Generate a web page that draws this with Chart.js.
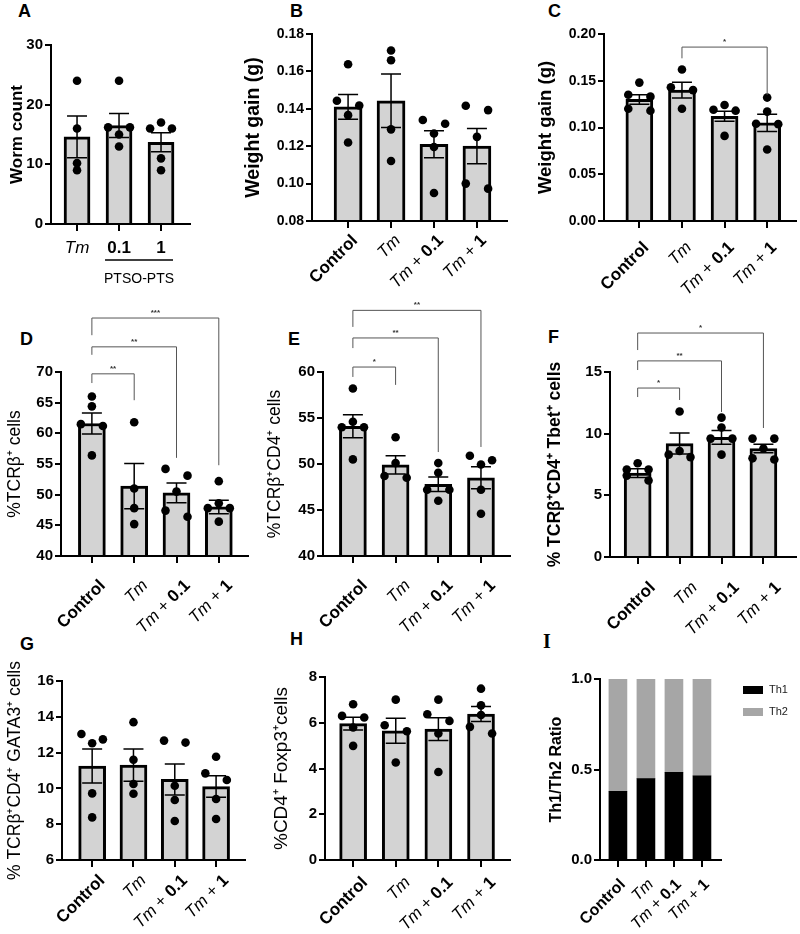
<!DOCTYPE html>
<html>
<head>
<meta charset="utf-8">
<script src="https://cdn.jsdelivr.net/npm/chart.js@4.4.0/dist/chart.umd.min.js"></script>
<style>
body { margin: 0; background: #fff; }
#fig { position: relative; width: 800px; height: 934px; overflow: hidden; font-family: 'Liberation Sans', Arial, sans-serif; }
#fig canvas { position: absolute; }
.letter { position: absolute; font-weight: bold; font-size: 18px; line-height: 18px; color: #000; }
</style>
</head>
<body>
<div id="fig">
  <div class="letter" style="left:18px;top:2px">A</div>
  <div class="letter" style="left:290px;top:2px">B</div>
  <div class="letter" style="left:548px;top:2px">C</div>
  <div class="letter" style="left:20px;top:330px">D</div>
  <div class="letter" style="left:288px;top:330px">E</div>
  <div class="letter" style="left:548px;top:328px">F</div>
  <div class="letter" style="left:20px;top:635px">G</div>
  <div class="letter" style="left:290px;top:630px">H</div>
  <div class="letter" style="left:543px;top:632px;font-family:'Liberation Serif',serif;font-size:20px">I</div>
</div>
<script>
const FONT = "'Liberation Sans', Arial, Helvetica, sans-serif";

const groups = ['Control', 'Tm', 'Tm + 0.1', 'Tm + 1'];
const groupsA = ['Tm', '0.1', '1'];

// A - worm count
const wormTicks = [0, 10, 20, 30];
const wormMean = [14.6, 16.5, 13.7];
const wormSem = [3.5, 2.0, 1.6];
const wormDots = [[24, 16, 10.2, 9], [24, 16.2, 16.2, 15, 13], [17, 16, 16, 11, 9]];

// B - weight gain
const weightTicksB = [0.08, 0.10, 0.12, 0.14, 0.16, 0.18];
const weightMeanB = [0.141, 0.1443, 0.121, 0.120];
const weightSemB = [0.0066, 0.0143, 0.0072, 0.0094];
const weightDotsB = [[0.1638, 0.1443, 0.1418, 0.1366, 0.122], [0.1712, 0.1660, 0.129, 0.1121], [0.134, 0.132, 0.1268, 0.1196, 0.095], [0.1416, 0.1393, 0.125, 0.100, 0.0973]];

// C - weight gain
const weightTicksC = [0, 0.05, 0.10, 0.15, 0.20];
const weightMeanC = [0.130, 0.140, 0.112, 0.105];
const weightSemC = [0.005, 0.0085, 0.0053, 0.0093];
const weightDotsC = [[0.148, 0.135, 0.133, 0.12, 0.118], [0.162, 0.143, 0.14, 0.12], [0.124, 0.119, 0.118, 0.091], [0.132, 0.117, 0.104, 0.1036, 0.0764]];
const sigC = [[1, 3, 0.186, 0.174, 0.135, '*']];

// D - TCRb+
const tcrTicks = [40, 45, 50, 55, 60, 65, 70];
const tcrMean = [61.6, 51.4, 50.3, 48.0];
const tcrSem = [1.7, 3.7, 1.6, 1.1];
const tcrDots = [[66, 64.4, 61.5, 61.2, 56.4], [61.8, 51, 47.8, 45.2], [54.2, 53.1, 50.5, 47.4, 46.4], [52.2, 48.6, 47.8, 47.8, 45.6]];
const sigD = [[0, 1, 69.7, 68.2, 65.4, '**'], [0, 2, 74.1, 72.8, 56.0, '**'], [0, 3, 78.8, 76.0, 54.8, '***']];

// E - TCRb+CD4+
const cd4Ticks = [40, 45, 50, 55, 60];
const cd4Mean = [54.1, 49.9, 47.8, 48.5];
const cd4Sem = [1.25, 1.0, 0.8, 1.2];
const cd4Dots = [[58.2, 54.6, 54.0, 54.0, 50.5], [52.9, 50.1, 48.7, 48.5], [50.1, 49.05, 47.2, 47.2, 46.0], [50.9, 50.4, 49.95, 47.2, 44.6]];
const sigE = [[0, 1, 60.54, 59.46, 58.6, '*'], [0, 2, 63.7, 62.6, 51.3, '**'], [0, 3, 66.7, 64.9, 51.85, '**']];

// F - Tbet+
const tbetTicks = [0, 5, 10, 15];
const tbetMean = [6.8, 9.2, 9.7, 8.8];
const tbetSem = [0.35, 0.85, 0.55, 0.35];
const tbetDots = [[7.6, 7.1, 7.1, 6.6, 6.2], [11.8, 8.6, 8.3, 8.1], [11.3, 10.5, 9.6, 9.6, 8.3], [9.6, 9.6, 8.8, 8.0, 7.9]];
const sigF = [[0, 1, 13.7, 12.97, 12.73, '*'], [0, 2, 15.9, 15.16, 11.76, '**'], [0, 3, 18.16, 16.78, 10.46, '*']];

// G - GATA3+
const gataTicks = [6, 8, 10, 12, 14, 16];
const gataMean = [11.25, 11.3, 10.5, 10.1];
const gataSem = [0.95, 0.9, 0.87, 0.6];
const gataDots = [[13.04, 12.74, 12.52, 9.72, 8.38], [13.7, 11.6, 10.25, 9.7], [12.67, 12.56, 10.15, 9.35, 8.18], [11.77, 10.84, 10.47, 9.41, 8.29]];

// H - Foxp3+
const foxTicks = [0, 2, 4, 6, 8];
const foxMean = [5.96, 5.65, 5.72, 6.38];
const foxSem = [0.28, 0.55, 0.5, 0.33];
const foxDots = [[6.81, 6.3, 6.23, 5.79, 4.99], [7.01, 5.89, 5.63, 4.26], [7.01, 6.37, 6.08, 5.53, 3.85], [7.49, 6.76, 6.34, 5.82, 5.53]];

// I - Th1/Th2
const ratioTicks = [0, 0.5, 1];
const th1 = [0.38, 0.45, 0.485, 0.465];
const th2 = [0.62, 0.55, 0.515, 0.535];

const panels = [
    { labels: groupsA, ticks: wormTicks, dec: 0, mean: wormMean, sem: wormSem, dots: wormDots,
      title: 'Worm count', titleFont: [17, 'bold'], titleX: 17, box: [0, 0, 205, 300], area: [51, 190, 45, 224],
      xr: [-0.62, 2.69], barW: 26, tickSize: 15, labSize: 17, flat: true, group: 'PTSO-PTS' },
    { labels: groups, ticks: weightTicksB, dec: 2, mean: weightMeanB, sem: weightSemB, dots: weightDotsB,
      title: 'Weight gain (g)', titleFont: [19.5, 'bold'], titleX: 254, box: [240, 0, 275, 300], area: [312, 507, 34, 221],
      xr: [-0.84, 3.70], barW: 28, tickSize: 14, labSize: 17, lab: [7, 17] },
    { labels: groups, ticks: weightTicksC, dec: 2, mean: weightMeanC, sem: weightSemC, dots: weightDotsC, sig: sigC,
      title: 'Weight gain (g)', titleFont: [18.5, 'bold'], titleX: 546, box: [530, 0, 270, 300], area: [604, 799, 34, 221],
      xr: [-0.83, 3.67], barW: 27, tickSize: 14, labSize: 17, lab: [7, 24] },
    { labels: groups, ticks: tcrTicks, dec: 0, mean: tcrMean, sem: tcrSem, dots: tcrDots, sig: sigD,
      title: '%TCRβ⁺ cells', titleFont: [17.5, 'normal'], titleX: 15, box: [0, 300, 258, 340], area: [61, 248, 372, 556],
      xr: [-0.73, 3.69], barW: 27, tickSize: 15, labSize: 17, lab: [11, 27] },
    { labels: groups, ticks: cd4Ticks, dec: 0, mean: cd4Mean, sem: cd4Sem, dots: cd4Dots, sig: sigE,
      title: '%TCRβ⁺CD4⁺ cells', titleFont: [17.5, 'normal'], titleX: 275, box: [258, 300, 262, 340], area: [323, 510, 372, 556],
      xr: [-0.70, 3.68], barW: 27, tickSize: 15, labSize: 17, lab: [12, 27] },
    { labels: groups, ticks: tbetTicks, dec: 0, mean: tbetMean, sem: tbetSem, dots: tbetDots, sig: sigF,
      title: '% TCRβ⁺CD4⁺ Tbet⁺ cells', titleFont: [17.5, 'bold'], titleX: 555, box: [530, 300, 270, 340], area: [610, 799, 372, 557],
      xr: [-0.66, 3.77], barW: 27, tickSize: 15, labSize: 17, lab: [15, 28] },
    { labels: groups, ticks: gataTicks, dec: 0, mean: gataMean, sem: gataSem, dots: gataDots,
      title: '% TCRβ⁺CD4⁺ GATA3⁺ cells', titleFont: [17.5, 'normal'], titleX: 15, box: [0, 620, 258, 314], area: [62, 245, 681, 860],
      xr: [-0.73, 3.70], barW: 27, tickSize: 15, labSize: 17, lab: [10, 18] },
    { labels: groups, ticks: foxTicks, dec: 0, mean: foxMean, sem: foxSem, dots: foxDots,
      title: '%CD4⁺ Foxp3⁺cells', titleFont: [19, 'normal'], titleX: 282, box: [258, 620, 262, 314], area: [325, 510, 677, 860],
      xr: [-0.66, 3.68], barW: 27, tickSize: 15, labSize: 17, lab: [12, 20] },
    { labels: groups, ticks: ratioTicks, dec: 1,
      stack: [{ label: 'Th1', values: th1, color: '#000000' }, { label: 'Th2', values: th2, color: '#a6a6a6' }],
      title: 'Th1/Th2 Ratio', titleFont: [16, 'bold'], titleX: 557, box: [530, 620, 270, 314], area: [600, 721, 679, 860],
      xr: [-0.64, 3.68], barW: 18, tickSize: 15, labSize: 16, lab: [5, 22] }
];

// Prism-like scatter: dots that would touch are put side by side
function spreadDots(dots, yMin, yMax) {
    const out = [];
    const rowGap = (yMax - yMin) * 0.038;
    const slotSets = [[0], [-1, 1], [0, -1, 1], [-1, 1, -2, 2], [0, -1, 1, -2, 2]];
    dots.forEach(function(vals, g) {
        const sorted = vals.slice().sort(function(a, b) { return b - a; });
        let row = [];
        function flush() {
            const slots = slotSets[row.length - 1];
            row.forEach(function(v, k) { out.push({ x: g + slots[k] * 0.26, y: v }); });
            row = [];
        }
        sorted.forEach(function(v) {
            if (row.length && row[0] - v >= rowGap) flush();
            row.push(v);
        });
        if (row.length) flush();
    });
    return out;
}

function labelParts(text) {
    if (text === 'Control') return [[text, 'bold']];
    const out = [];
    text.split(/(Tm| \+ )/).forEach(function(s) {
        if (!s) return;
        if (s === 'Tm') out.push([s, 'italic']);
        else if (s === ' + ') out.push([s, 'normal']);
        else out.push([s, 'bold']);
    });
    return out;
}

function buildPanel(p) {
    const c = document.createElement('canvas');
    const bl = p.box[0], bt = p.box[1], bw = p.box[2], bh = p.box[3];
    const x0 = p.area[0], x1 = p.area[1], y0 = p.area[2], y1 = p.area[3];
    c.width = bw; c.height = bh;
    c.style.left = bl + 'px'; c.style.top = bt + 'px';
    document.getElementById('fig').appendChild(c);

    const yw = x0 - bl, xh = bt + bh - y1;
    const yMin = p.ticks[0], yMax = p.ticks[p.ticks.length - 1];

    let datasets;
    if (p.stack) {
        datasets = p.stack.map(function(s) {
            return { type: 'bar', label: s.label, data: s.values.map(function(v, i) { return { x: i, y: v }; }),
                     backgroundColor: s.color, borderWidth: 0, barThickness: p.barW };
        });
    } else {
        datasets = [
            { type: 'bar', data: p.mean.map(function(v, i) { return { x: i, y: v }; }),
              backgroundColor: '#d3d3d3', borderColor: '#000', borderWidth: 3, borderSkipped: 'start',
              barThickness: p.barW, order: 2 },
            { type: 'scatter', data: spreadDots(p.dots, yMin, yMax), pointRadius: 4.3,
              pointBackgroundColor: '#000', pointBorderWidth: 0, order: 1 }
        ];
    }

    const extras = {
        id: 'extras',
        afterDatasetDraw: function(chart, args) {
            if (p.stack || args.index !== 0) return;
            const ctx = chart.ctx, ys = chart.scales.y;
            const meta = chart.getDatasetMeta(0);
            const cap = 10;
            ctx.save();
            ctx.strokeStyle = '#000';
            ctx.lineWidth = 1.5;
            meta.data.forEach(function(bar, i) {
                const yt = ys.getPixelForValue(p.mean[i] + p.sem[i]);
                const yb = ys.getPixelForValue(p.mean[i] - p.sem[i]);
                ctx.beginPath();
                ctx.moveTo(bar.x, yt); ctx.lineTo(bar.x, yb);
                ctx.moveTo(bar.x - cap, yt); ctx.lineTo(bar.x + cap, yt);
                ctx.moveTo(bar.x - cap, yb); ctx.lineTo(bar.x + cap, yb);
                ctx.stroke();
            });
            ctx.restore();
        },
        afterDraw: function(chart) {
            const ctx = chart.ctx, xs = chart.scales.x, ys = chart.scales.y;
            const base = chart.chartArea.bottom;
            ctx.save();
            ctx.fillStyle = '#000';
            // category labels with mixed styles
            p.labels.forEach(function(lbl, i) {
                const parts = labelParts(lbl);
                const px = xs.getPixelForValue(i);
                const fonts = parts.map(function(pt) {
                    return (pt[1] === 'normal' ? '' : pt[1] + ' ') + p.labSize + 'px ' + FONT;
                });
                let total = 0;
                const widths = parts.map(function(pt, k) { ctx.font = fonts[k]; const w = ctx.measureText(pt[0]).width; total += w; return w; });
                ctx.save();
                if (p.flat) {
                    ctx.translate(px, base + 29);
                    ctx.textBaseline = 'alphabetic';
                } else {
                    ctx.translate(px + p.lab[0], base + p.lab[1]);
                    ctx.rotate(-Math.PI / 4);
                    ctx.textBaseline = 'middle';
                }
                ctx.textAlign = 'left';
                let x = p.flat ? -total / 2 : -total;
                parts.forEach(function(pt, k) { ctx.font = fonts[k]; ctx.fillText(pt[0], x, 0); x += widths[k]; });
                ctx.restore();
            });
            // PTSO-PTS group line
            if (p.group) {
                const xa = xs.getPixelForValue(1) - 14, xb = xs.getPixelForValue(2) + 12;
                ctx.strokeStyle = '#000';
                ctx.lineWidth = 1.5;
                ctx.beginPath(); ctx.moveTo(xa, base + 36); ctx.lineTo(xb, base + 36); ctx.stroke();
                ctx.font = '14px ' + FONT;
                ctx.textAlign = 'center';
                ctx.textBaseline = 'alphabetic';
                ctx.fillText(p.group, (xa + xb) / 2, base + 59);
            }
            // significance brackets
            (p.sig || []).forEach(function(s) {
                const xa = xs.getPixelForValue(s[0]), xb = xs.getPixelForValue(s[1]);
                const yt = ys.getPixelForValue(s[2]);
                ctx.strokeStyle = '#555';
                ctx.lineWidth = 1;
                ctx.beginPath();
                ctx.moveTo(xa, ys.getPixelForValue(s[3]));
                ctx.lineTo(xa, yt); ctx.lineTo(xb, yt);
                ctx.lineTo(xb, ys.getPixelForValue(s[4]));
                ctx.stroke();
                ctx.fillStyle = '#333';
                ctx.font = 'bold 8px ' + FONT;
                ctx.textAlign = 'center';
                ctx.textBaseline = 'alphabetic';
                ctx.fillText(s[5], (xa + xb) / 2, yt - 3);
            });
            // legend for the stacked panel
            if (p.stack) {
                chart.data.datasets.forEach(function(ds, k) {
                    const yy = chart.chartArea.top + 11 + k * 22;
                    const lx = chart.chartArea.right + 22;
                    ctx.fillStyle = ds.backgroundColor;
                    ctx.fillRect(lx, yy - 4, 20, 8);
                    ctx.fillStyle = '#222';
                    ctx.font = '11px ' + FONT;
                    ctx.textAlign = 'left';
                    ctx.textBaseline = 'middle';
                    ctx.fillText(ds.label, lx + 26, yy);
                });
            }
            ctx.restore();
        }
    };

    new Chart(c, {
        type: 'bar',
        data: { datasets: datasets },
        options: {
            responsive: false,
            animation: false,
            events: [],
            layout: { padding: { top: y0 - bt, right: bl + bw - x1, left: 0, bottom: 0 } },
            plugins: { legend: { display: false }, tooltip: { enabled: false } },
            scales: {
                x: {
                    type: 'linear', min: p.xr[0], max: p.xr[1], offset: false, stacked: !!p.stack,
                    afterBuildTicks: function(s) { s.ticks = p.labels.map(function(_, i) { return { value: i }; }); },
                    afterFit: function(s) { s.height = xh; s.paddingLeft = 0; s.paddingRight = 0; },
                    ticks: { display: false },
                    grid: { display: true, offset: false, drawOnChartArea: false, drawTicks: true, tickLength: 7, color: '#000', lineWidth: 2 },
                    border: { display: true, color: '#000', width: 2, z: 1 }
                },
                y: {
                    min: yMin, max: yMax, beginAtZero: false, stacked: !!p.stack,
                    afterBuildTicks: function(s) { s.ticks = p.ticks.map(function(v) { return { value: v }; }); },
                    afterFit: function(s) { s.width = yw; s.paddingTop = 0; s.paddingBottom = 0; },
                    ticks: {
                        color: '#000', padding: 2,
                        font: { family: FONT, weight: 'bold', size: p.tickSize },
                        callback: function(v) { return Number(v).toFixed(p.dec); }
                    },
                    grid: { display: true, drawOnChartArea: false, drawTicks: true, tickLength: 6, color: '#000', lineWidth: 2 },
                    border: { display: true, color: '#000', width: 2, z: 1 },
                    title: {
                        display: true, text: p.title, color: '#000',
                        font: { family: FONT, size: p.titleFont[0], weight: p.titleFont[1] },
                        padding: { top: p.titleX - bl - p.titleFont[0] * 0.6, bottom: 0 }
                    }
                }
            }
        },
        plugins: [extras]
    });
}

panels.forEach(buildPanel);
</script>
</body>
</html>
